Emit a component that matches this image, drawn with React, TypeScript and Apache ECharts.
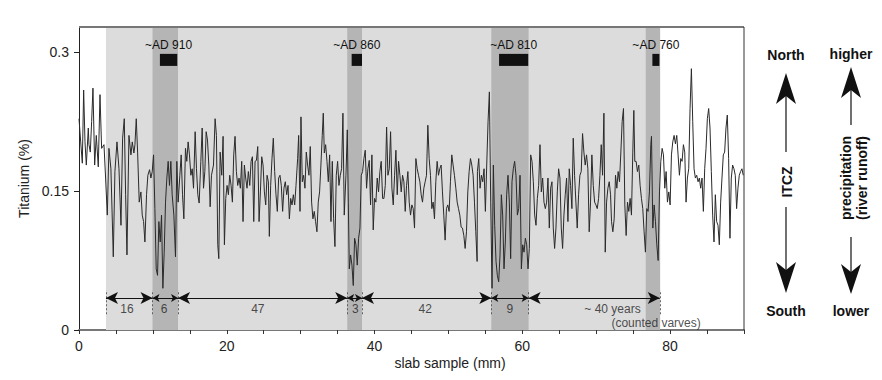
import React, { useEffect, useRef } from 'react';
import * as echarts from 'echarts';

// Titanium record along the slab: [slab sample (mm), titanium (%)]
const titaniumRecord: [number, number][] = [
  [0.00, 0.228], [0.23, 0.203], [0.45, 0.180], [0.63, 0.259], [0.81, 0.203], [0.99, 0.178], [1.26, 0.218], [1.35, 0.200],
  [1.53, 0.192], [1.71, 0.225], [1.89, 0.261], [2.12, 0.178], [2.34, 0.210], [2.61, 0.176], [2.84, 0.254], [3.06, 0.196],
  [3.38, 0.200], [3.60, 0.164], [3.83, 0.124], [4.05, 0.196], [4.32, 0.174], [4.64, 0.079], [4.86, 0.171], [5.14, 0.203],
  [5.41, 0.174], [5.68, 0.113], [5.90, 0.207], [6.13, 0.228], [6.31, 0.146], [6.49, 0.081], [6.76, 0.210], [7.03, 0.189],
  [7.21, 0.203], [7.43, 0.191], [7.57, 0.200], [7.75, 0.228], [7.93, 0.192], [8.15, 0.138], [8.38, 0.149], [8.56, 0.124],
  [8.74, 0.117], [8.92, 0.095], [9.14, 0.146], [9.32, 0.167], [9.55, 0.173], [9.73, 0.164], [9.91, 0.171], [10.09, 0.189],
  [10.27, 0.131], [10.45, 0.066], [10.63, 0.059], [10.81, 0.117], [10.99, 0.095], [11.17, 0.124], [11.35, 0.045], [11.53, 0.084],
  [11.71, 0.138], [11.89, 0.164], [12.07, 0.182], [12.25, 0.156], [12.43, 0.182], [12.61, 0.146], [12.84, 0.124], [13.06, 0.079],
  [13.24, 0.182], [13.42, 0.138], [13.65, 0.167], [13.83, 0.189], [14.01, 0.146], [14.19, 0.120], [14.41, 0.196], [14.59, 0.182],
  [14.77, 0.203], [14.95, 0.189], [15.14, 0.167], [15.32, 0.174], [15.50, 0.153], [15.72, 0.214], [15.90, 0.174], [16.08, 0.146],
  [16.26, 0.137], [16.49, 0.182], [16.67, 0.218], [16.85, 0.153], [17.03, 0.171], [17.21, 0.214], [17.39, 0.205], [17.57, 0.178],
  [17.75, 0.133], [17.93, 0.167],
  [18.20, 0.178], [18.42, 0.228], [18.60, 0.210], [18.78, 0.092], [18.92, 0.077], [19.10, 0.192], [19.32, 0.167], [19.50, 0.209],
  [19.68, 0.092], [19.86, 0.142], [20.04, 0.156], [20.22, 0.146], [20.40, 0.167], [20.58, 0.156], [20.76, 0.138], [20.94, 0.189],
  [21.12, 0.209], [21.30, 0.171], [21.48, 0.156], [21.66, 0.164], [21.84, 0.153], [22.02, 0.182], [22.20, 0.117], [22.38, 0.178],
  [22.56, 0.164], [22.74, 0.153], [22.92, 0.171], [23.11, 0.156], [23.29, 0.182], [23.47, 0.187], [23.65, 0.117], [23.83, 0.182],
  [24.01, 0.183], [24.19, 0.198], [24.37, 0.117], [24.55, 0.149], [24.73, 0.187], [24.91, 0.178], [25.09, 0.149], [25.27, 0.135],
  [25.45, 0.167], [25.63, 0.160], [25.76, 0.101], [25.94, 0.156], [26.12, 0.185], [26.30, 0.207], [26.48, 0.171], [26.66, 0.146],
  [26.84, 0.128], [27.02, 0.164], [27.20, 0.167], [27.38, 0.156], [27.56, 0.128], [27.74, 0.153], [27.92, 0.160], [28.11, 0.146],
  [28.29, 0.156], [28.47, 0.120], [28.65, 0.142], [28.83, 0.135], [29.01, 0.146], [29.19, 0.135], [29.37, 0.156], [29.59, 0.185],
  [29.73, 0.210], [29.91, 0.128], [30.04, 0.230], [30.22, 0.160], [30.40, 0.167], [30.58, 0.153], [30.76, 0.192], [30.94, 0.178],
  [31.12, 0.167], [31.30, 0.198], [31.48, 0.138], [31.66, 0.120], [31.84, 0.128], [32.02, 0.117], [32.20, 0.106], [32.38, 0.138],
  [32.56, 0.149], [32.74, 0.178], [32.92, 0.210], [33.06, 0.234], [33.20, 0.191], [33.38, 0.200], [33.56, 0.182], [33.74, 0.160],
  [33.92, 0.189], [34.10, 0.117], [34.28, 0.182], [34.46, 0.120], [34.64, 0.090], [34.82, 0.167], [35.00, 0.182], [35.18, 0.156],
  [35.36, 0.167], [35.54, 0.174], [35.72, 0.234], [35.90, 0.124],
  [36.13, 0.167], [36.31, 0.216], [36.45, 0.138], [36.58, 0.066], [36.76, 0.081], [36.94, 0.070], [37.12, 0.048], [37.30, 0.099],
  [37.48, 0.092], [37.66, 0.070], [37.84, 0.099], [38.02, 0.110], [38.20, 0.167], [38.38, 0.171], [38.56, 0.185], [38.74, 0.194],
  [38.92, 0.153], [39.10, 0.174], [39.28, 0.183], [39.46, 0.135], [39.64, 0.189], [39.82, 0.108], [40.00, 0.142], [40.18, 0.138],
  [40.36, 0.164], [40.54, 0.149], [40.72, 0.171], [40.90, 0.182], [41.09, 0.142], [41.27, 0.142], [41.45, 0.156], [41.63, 0.219],
  [41.81, 0.167], [41.99, 0.174], [42.17, 0.214], [42.35, 0.153], [42.53, 0.135], [42.71, 0.167], [42.89, 0.194], [43.07, 0.146],
  [43.25, 0.182], [43.43, 0.167], [43.61, 0.149], [43.79, 0.167], [43.97, 0.160], [44.15, 0.128], [44.33, 0.156], [44.51, 0.171],
  [44.69, 0.138], [44.87, 0.124], [45.05, 0.135], [45.23, 0.131], [45.41, 0.110], [45.59, 0.185], [45.77, 0.174], [45.95, 0.167],
  [46.13, 0.160], [46.31, 0.146], [46.49, 0.138], [46.67, 0.153], [46.85, 0.160], [47.03, 0.167], [47.21, 0.221], [47.39, 0.185],
  [47.57, 0.167], [47.75, 0.131], [47.93, 0.138], [48.11, 0.120], [48.29, 0.160], [48.47, 0.182], [48.65, 0.167], [48.83, 0.174],
  [49.01, 0.178], [49.19, 0.149], [49.37, 0.124], [49.55, 0.097], [49.73, 0.131], [49.91, 0.135], [50.09, 0.128], [50.27, 0.160],
  [50.45, 0.189], [50.63, 0.178], [50.81, 0.167], [51.00, 0.153], [51.18, 0.138], [51.36, 0.131], [51.54, 0.124], [51.72, 0.111],
  [51.90, 0.110], [52.08, 0.102], [52.26, 0.088], [52.44, 0.106], [52.62, 0.149], [52.80, 0.171], [52.98, 0.185], [53.16, 0.178],
  [53.34, 0.167], [53.52, 0.138], [53.70, 0.106], [53.88, 0.074],
  [53.92, 0.171], [54.10, 0.185], [54.28, 0.153], [54.46, 0.167], [54.64, 0.160], [54.82, 0.174], [55.00, 0.128], [55.18, 0.178],
  [55.36, 0.225], [55.54, 0.257], [55.72, 0.138], [55.90, 0.045], [56.08, 0.178], [56.26, 0.113], [56.44, 0.074], [56.62, 0.059],
  [56.80, 0.052], [56.98, 0.081], [57.16, 0.146], [57.34, 0.124], [57.52, 0.066], [57.70, 0.095], [57.88, 0.146], [58.06, 0.167],
  [58.24, 0.138], [58.42, 0.077], [58.60, 0.160], [58.78, 0.174], [58.96, 0.182], [59.14, 0.167], [59.33, 0.124], [59.51, 0.131],
  [59.69, 0.167], [59.87, 0.066], [60.05, 0.092], [60.23, 0.084], [60.41, 0.099], [60.59, 0.092], [60.77, 0.066], [60.95, 0.088],
  [61.13, 0.189], [61.31, 0.182], [61.49, 0.160], [61.67, 0.124], [61.85, 0.113], [62.03, 0.142], [62.21, 0.156], [62.39, 0.200],
  [62.57, 0.149], [62.75, 0.164], [62.93, 0.138], [63.11, 0.131], [63.29, 0.138], [63.47, 0.164], [63.65, 0.110], [63.83, 0.153],
  [64.01, 0.160], [64.19, 0.110], [64.37, 0.088], [64.55, 0.110], [64.73, 0.149], [64.91, 0.174], [65.09, 0.164], [65.27, 0.110],
  [65.45, 0.088], [65.63, 0.124], [65.81, 0.146], [65.99, 0.164], [66.17, 0.117], [66.35, 0.174], [66.53, 0.156], [66.71, 0.131],
  [66.89, 0.207], [67.07, 0.167], [67.25, 0.138], [67.43, 0.110], [67.61, 0.146], [67.79, 0.167], [67.97, 0.171], [68.15, 0.212],
  [68.33, 0.192], [68.51, 0.178], [68.69, 0.189], [68.87, 0.174], [69.05, 0.106], [69.23, 0.138], [69.41, 0.189], [69.60, 0.156],
  [69.78, 0.138], [69.96, 0.135], [70.14, 0.131], [70.32, 0.142], [70.50, 0.167], [70.68, 0.200], [70.86, 0.167], [71.04, 0.234],
  [71.22, 0.084], [71.40, 0.138], [71.58, 0.153], [71.76, 0.160], [71.94, 0.146],
  [72.07, 0.117], [72.25, 0.106], [72.43, 0.120], [72.61, 0.167], [72.79, 0.153], [72.97, 0.171], [73.15, 0.160], [73.33, 0.191],
  [73.51, 0.225], [73.69, 0.239], [73.87, 0.135], [74.05, 0.102], [74.23, 0.138], [74.41, 0.128], [74.59, 0.142], [74.77, 0.124],
  [74.95, 0.192], [75.09, 0.237], [75.22, 0.182], [75.40, 0.182], [75.58, 0.171], [75.76, 0.178], [75.94, 0.156], [76.12, 0.142],
  [76.30, 0.131], [76.48, 0.106], [76.66, 0.084], [76.84, 0.131], [77.02, 0.128], [77.20, 0.149], [77.39, 0.200], [77.48, 0.209],
  [77.66, 0.110], [77.84, 0.135], [78.02, 0.117], [78.20, 0.092], [78.38, 0.075], [78.56, 0.149], [78.74, 0.182], [78.92, 0.196],
  [79.10, 0.189], [79.28, 0.153], [79.46, 0.171], [79.64, 0.138], [79.82, 0.149], [80.00, 0.135], [80.18, 0.189], [80.36, 0.203],
  [80.54, 0.210], [80.72, 0.201], [80.90, 0.210], [81.08, 0.189], [81.26, 0.167], [81.44, 0.185], [81.62, 0.182], [81.80, 0.200],
  [81.98, 0.192], [82.16, 0.138], [82.34, 0.164], [82.52, 0.174], [82.70, 0.239], [82.88, 0.282], [83.06, 0.225], [83.24, 0.174],
  [83.42, 0.164], [83.60, 0.167], [83.78, 0.160], [83.96, 0.164], [84.14, 0.153], [84.32, 0.164], [84.50, 0.128], [84.68, 0.174],
  [84.86, 0.196], [85.04, 0.228], [85.22, 0.239], [85.40, 0.218], [85.58, 0.171], [85.76, 0.124], [85.94, 0.095], [86.12, 0.146],
  [86.30, 0.117], [86.48, 0.113], [86.66, 0.092], [86.84, 0.138], [87.02, 0.164], [87.20, 0.189], [87.38, 0.192], [87.56, 0.218],
  [87.74, 0.232], [87.92, 0.185], [88.10, 0.099], [88.28, 0.164], [88.46, 0.178], [88.64, 0.174], [88.82, 0.167], [89.00, 0.131],
  [89.18, 0.153], [89.36, 0.167], [89.54, 0.171], [89.72, 0.174], [89.90, 0.167],
];

// Shaded sections (mm)
const countedSpan: [number, number] = [3.65, 78.6];
const eventBands: [number, number][] = [[9.95, 13.4], [36.3, 38.3], [55.8, 60.85], [76.7, 78.65]];

// Dated black bars (mm) and their labels
const dateBars: [number, number][] = [[10.95, 13.3], [36.9, 38.3], [56.85, 60.8], [77.6, 78.55]];
const dateLabels = ['~AD 910', '~AD 860', '~AD 810', '~AD 760'];
const dateBarTi: [number, number] = [0.285, 0.298];

// Varve-count intervals
const varveBoundaries = [3.65, 9.95, 13.4, 36.3, 38.3, 55.8, 60.85, 78.6];
const varveCounts = ['16', '6', '47', '3', '42', '9', '~ 40 years'];
const varveLabelMm = [6.5, 11.5, 24.2, 37.4, 46.85, 58.3, 72.2];
const varveNote = '(counted varves)';
const varveNoteMm = 78.1;
const arrowTi = 0.0345;
const countLabelTi = 0.0225;
const noteTi = 0.0079;

// Axis ticks
const xTicks = [0, 20, 40, 60, 80];
const yTicks = [0, 0.15, 0.3];
const yTickLabels = ['0', '0.15', '0.3'];

const FONT = '"Liberation Sans", Arial, Helvetica, sans-serif';

export default function App() {
  const ref = useRef<HTMLDivElement>(null);

  useEffect(() => {
    if (!ref.current) return;
    const chart = echarts.init(ref.current, undefined, { renderer: 'svg' });

    const bigArrows: any[] = [];
    const smallArrows: any[] = [];
    for (let i = 0; i < varveBoundaries.length - 1; i++) {
      const a = varveBoundaries[i];
      const b = varveBoundaries[i + 1];
      const seg = [{ coord: [a, arrowTi] }, { coord: [b, arrowTi] }];
      if (b - a > 6) bigArrows.push(seg);
      else smallArrows.push(seg);
    }

    const option: any = {
      animation: false,
      textStyle: { fontFamily: FONT },
      grid: { left: 79, top: 27, right: 138, bottom: 50, show: false },
      xAxis: {
        type: 'value',
        min: 0,
        max: 90,
        interval: 5,
        axisLine: { show: true, lineStyle: { color: '#777', width: 2 } },
        axisTick: { show: true, length: 4, lineStyle: { color: '#333', width: 1 } },
        axisLabel: {
          color: '#222',
          fontSize: 14,
          fontFamily: FONT,
          margin: 9,
          formatter: (v: number) => (xTicks.indexOf(v) >= 0 ? String(v) : ''),
        },
        splitLine: { show: false },
      },
      yAxis: {
        type: 'value',
        min: 0,
        max: 0.327,
        interval: 0.15,
        name: 'Titanium (%)',
        nameLocation: 'middle',
        nameGap: 48,
        nameTextStyle: { color: '#222', fontSize: 14, fontFamily: FONT },
        axisLine: { show: true, lineStyle: { color: '#222', width: 1 } },
        axisTick: { show: true, length: 5, customValues: yTicks, lineStyle: { color: '#222' } },
        axisLabel: {
          color: '#222',
          fontSize: 14,
          fontFamily: FONT,
          margin: 10,
          customValues: yTicks,
          formatter: (v: number) => {
            const i = yTicks.findIndex((t) => Math.abs(t - v) < 1e-9);
            return i >= 0 ? yTickLabels[i] : '';
          },
        },
        splitLine: { show: false },
      },
      series: [
        {
          type: 'line',
          data: [],
          z: 1,
          silent: true,
          markArea: {
            silent: true,
            data: [
              [
                { xAxis: countedSpan[0], itemStyle: { color: '#dcdcdc' } },
                { xAxis: countedSpan[1] },
              ],
              ...eventBands.map((b) => [
                { xAxis: b[0], itemStyle: { color: '#b5b5b5' } },
                { xAxis: b[1] },
              ]),
            ],
          },
        },
        {
          type: 'line',
          data: titaniumRecord,
          z: 5,
          showSymbol: false,
          silent: true,
          lineStyle: { color: '#2a2a2a', width: 1 },
        },
        {
          type: 'line',
          data: [],
          z: 6,
          silent: true,
          markArea: {
            silent: true,
            itemStyle: { color: '#111' },
            label: {
              show: true,
              position: 'top',
              distance: 3,
              color: '#111',
              fontSize: 12,
              fontFamily: FONT,
            },
            data: dateBars.map((b, i) => [
              { name: dateLabels[i], coord: [b[0], dateBarTi[1]] },
              { coord: [b[1], dateBarTi[0]] },
            ]),
          },
        },
        {
          type: 'line',
          data: [],
          z: 7,
          silent: true,
          markLine: {
            silent: true,
            symbol: 'none',
            label: { show: false },
            lineStyle: { color: '#444', width: 0.8, type: [2, 2] },
            data: varveBoundaries.map((x) => [{ coord: [x, 0.017] }, { coord: [x, 0.043] }]),
          },
        },
        {
          type: 'line',
          data: [],
          z: 8,
          silent: true,
          markLine: {
            silent: true,
            symbol: ['arrow', 'arrow'],
            symbolSize: [9, 12],
            label: { show: false },
            lineStyle: { color: '#111', width: 1, type: 'solid' },
            data: bigArrows,
          },
        },
        {
          type: 'line',
          data: [],
          z: 8,
          silent: true,
          markLine: {
            silent: true,
            symbol: ['arrow', 'arrow'],
            symbolSize: [6, 7],
            label: { show: false },
            lineStyle: { color: '#111', width: 1, type: 'solid' },
            data: smallArrows,
          },
        },
        {
          type: 'scatter',
          z: 9,
          silent: true,
          symbolSize: 0,
          data: [
            ...varveCounts.map((t, i) => ({ value: [varveLabelMm[i], countLabelTi], name: t })),
            { value: [varveNoteMm, noteTi], name: varveNote },
          ],
          label: {
            show: true,
            position: 'inside',
            formatter: (p: any) => p.name,
            color: '#222',
            fontSize: 12,
            fontFamily: FONT,
          },
        },
      ],
      graphic: [
        // frame top & right
        { type: 'line', z: 100, silent: true, shape: { x1: 79, y1: 27, x2: 744, y2: 27 }, style: { stroke: '#777', lineWidth: 2 } },
        { type: 'line', z: 100, silent: true, shape: { x1: 744, y1: 27, x2: 744, y2: 330 }, style: { stroke: '#333', lineWidth: 1 } },
        // x axis title
        { type: 'text', x: 450, y: 363, style: { text: 'slab sample (mm)', font: `14px ${FONT}`, fill: '#222', align: 'center', verticalAlign: 'middle' } },
        // ITCZ column
        { type: 'text', x: 786, y: 55, style: { text: 'North', font: `bold 14px ${FONT}`, fill: '#111', align: 'center', verticalAlign: 'middle' } },
        { type: 'text', x: 786, y: 311, style: { text: 'South', font: `bold 14px ${FONT}`, fill: '#111', align: 'center', verticalAlign: 'middle' } },
        { type: 'polygon', shape: { points: [[786, 73], [796, 104], [786, 96], [776, 104]] }, style: { fill: '#111' } },
        { type: 'line', shape: { x1: 786, y1: 96, x2: 786, y2: 152 }, style: { stroke: '#111', lineWidth: 1.2 } },
        { type: 'text', x: 787, y: 182, rotation: Math.PI / 2, style: { text: 'ITCZ', font: `bold 14px ${FONT}`, fill: '#111', align: 'center', verticalAlign: 'middle' } },
        { type: 'line', shape: { x1: 786, y1: 207, x2: 786, y2: 270 }, style: { stroke: '#111', lineWidth: 1.2 } },
        { type: 'polygon', shape: { points: [[786, 293], [796, 262], [786, 270], [776, 262]] }, style: { fill: '#111' } },
        // precipitation column
        { type: 'text', x: 851, y: 54, style: { text: 'higher', font: `bold 14px ${FONT}`, fill: '#111', align: 'center', verticalAlign: 'middle' } },
        { type: 'text', x: 851, y: 311, style: { text: 'lower', font: `bold 14px ${FONT}`, fill: '#111', align: 'center', verticalAlign: 'middle' } },
        { type: 'polygon', shape: { points: [[851, 67], [861, 98], [851, 90], [841, 98]] }, style: { fill: '#111' } },
        { type: 'line', shape: { x1: 851, y1: 90, x2: 851, y2: 125 }, style: { stroke: '#111', lineWidth: 1.2 } },
        { type: 'text', x: 854, y: 178, rotation: Math.PI / 2, style: { text: 'precipitation\n(river runoff)', font: `bold 14px ${FONT}`, lineHeight: 16, fill: '#111', align: 'center', verticalAlign: 'middle' } },
        { type: 'line', shape: { x1: 851, y1: 237, x2: 851, y2: 272 }, style: { stroke: '#111', lineWidth: 1.2 } },
        { type: 'polygon', shape: { points: [[851, 294], [861, 264], [851, 272], [841, 264]] }, style: { fill: '#111' } },
      ],
    };

    chart.setOption(option);
    return () => chart.dispose();
  }, []);

  return (
    <div
      ref={ref}
      style={{ position: 'absolute', left: 0, top: 0, width: 882, height: 380, background: '#fff' }}
    />
  );
}
